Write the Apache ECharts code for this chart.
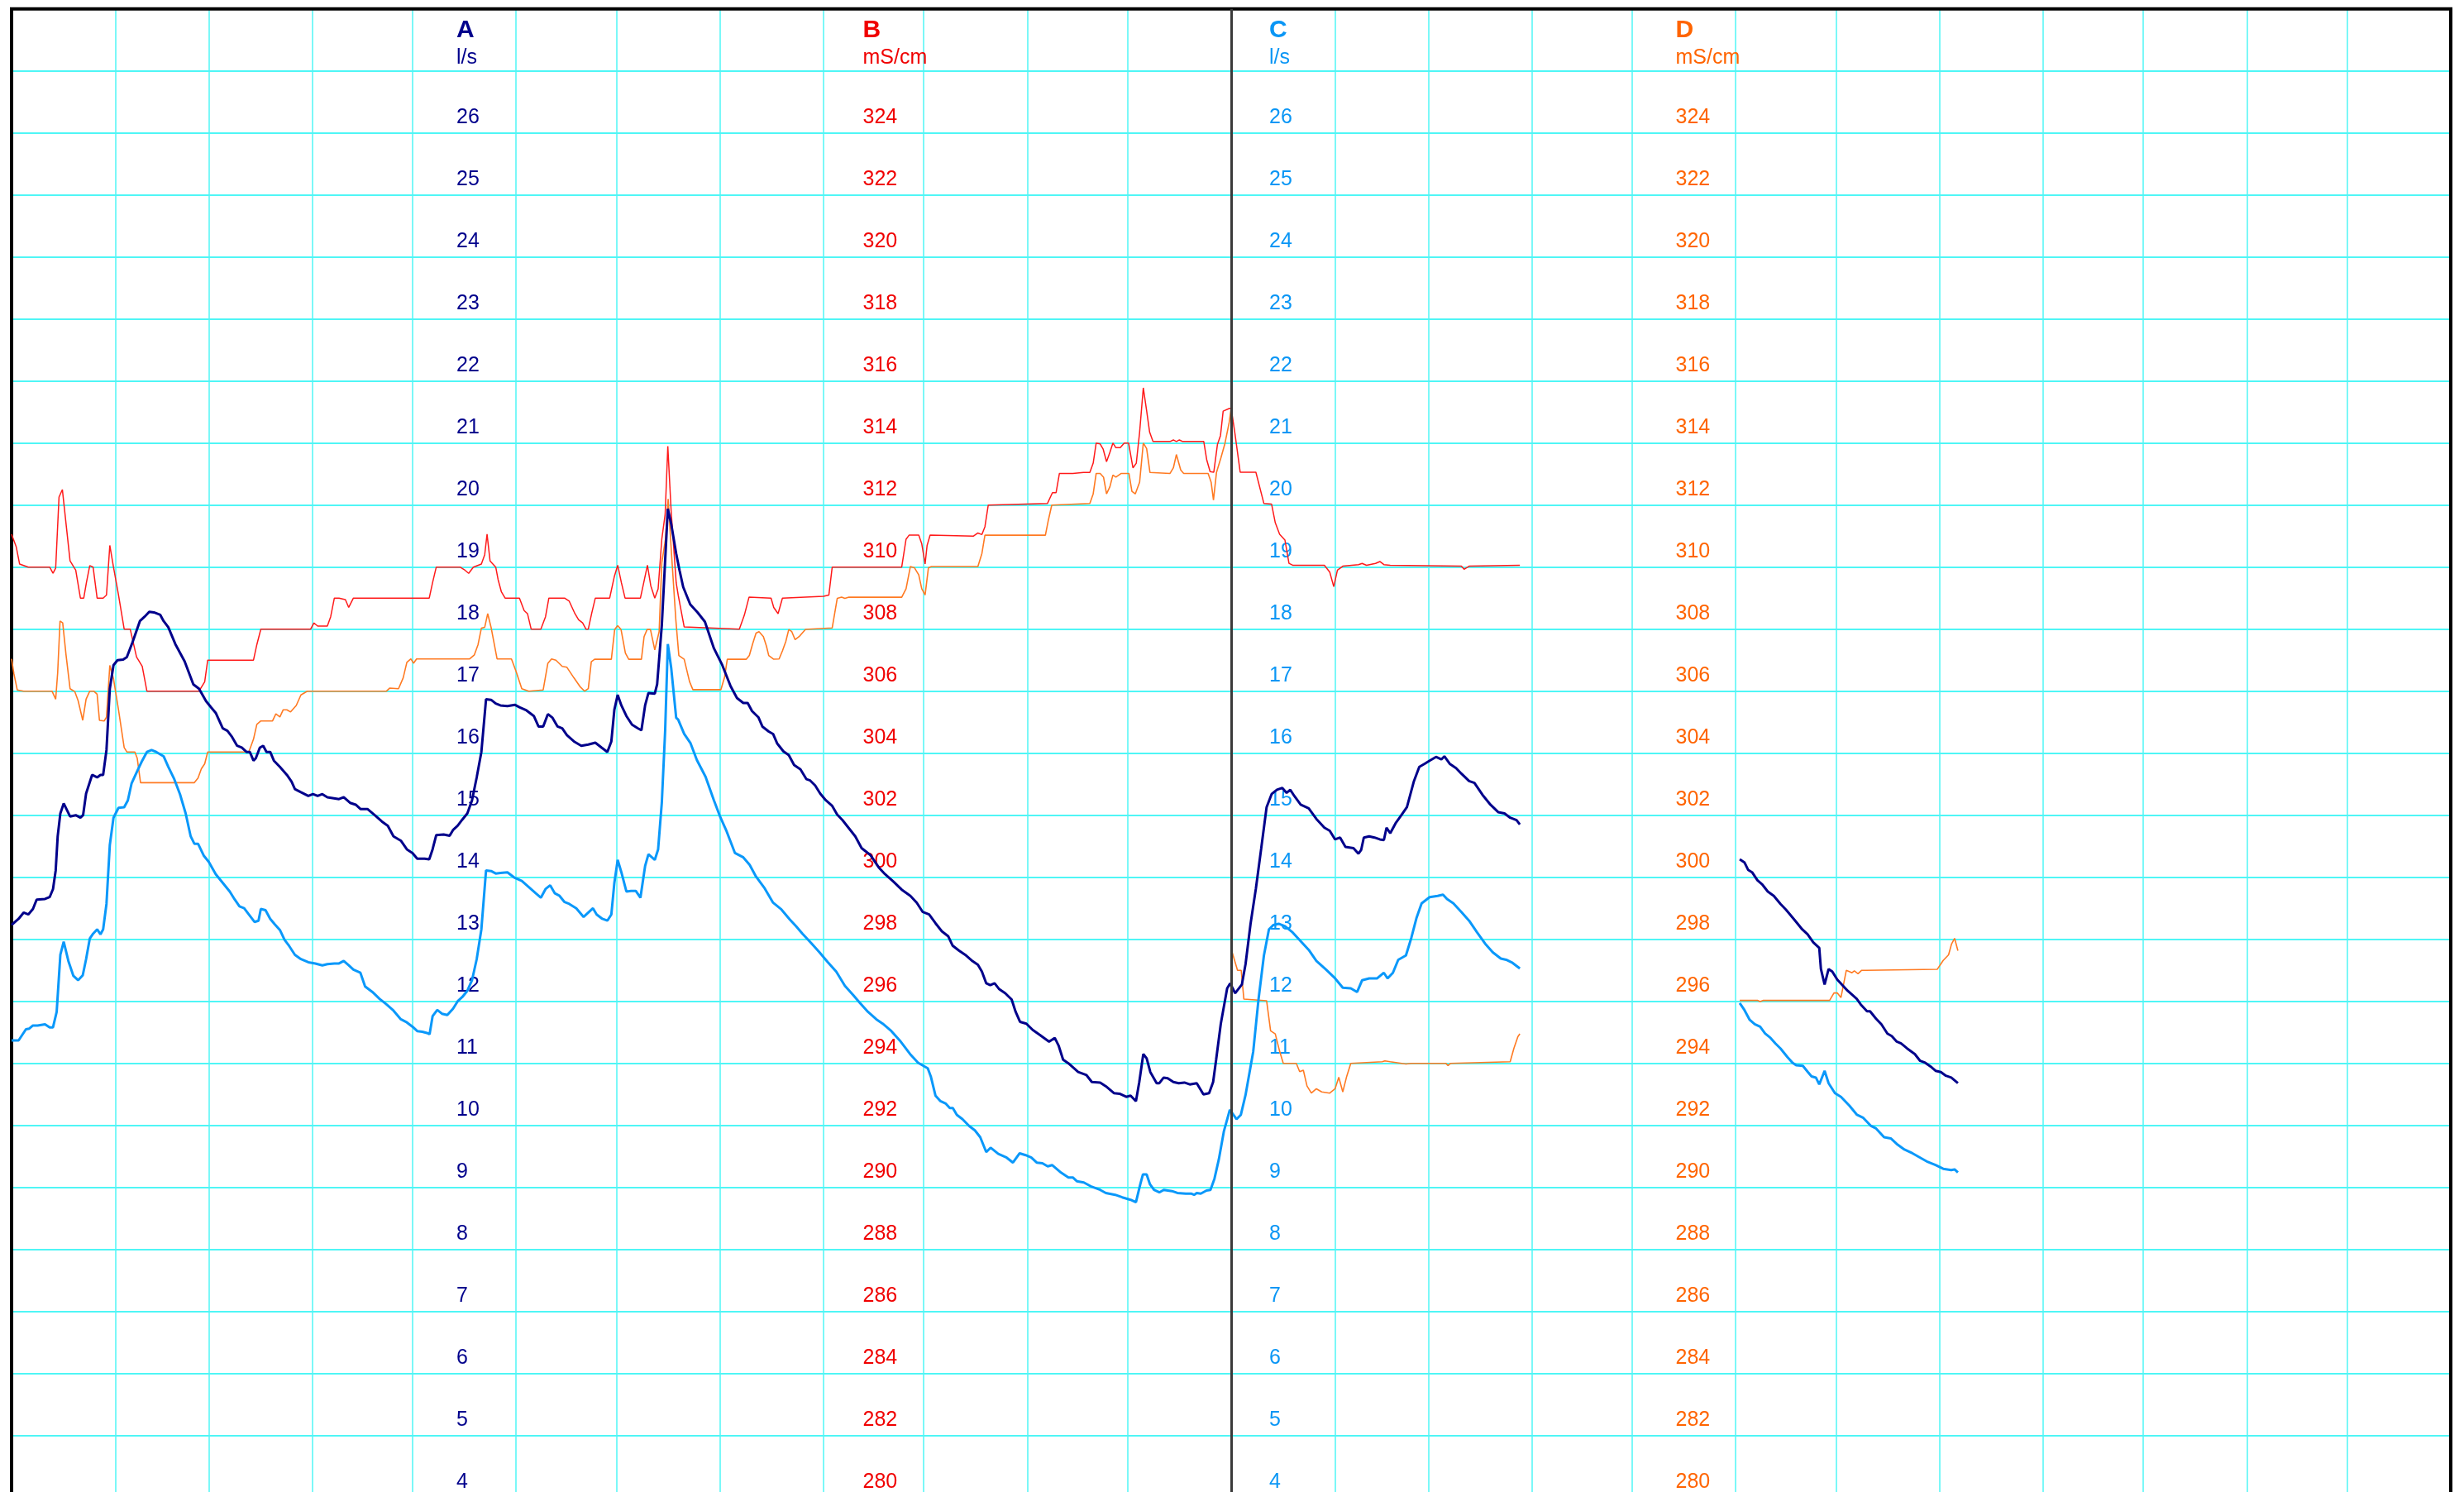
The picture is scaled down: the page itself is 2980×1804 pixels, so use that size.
<!DOCTYPE html>
<html><head><meta charset="utf-8">
<script src="https://cdn.jsdelivr.net/npm/echarts@6/dist/echarts.min.js"></script>
<style>html,body{margin:0;padding:0;background:#fff;overflow:hidden}#c{width:2980px;height:1804px}</style>
</head><body><div id="c"></div>
<script>
// x values are days counted from 1 Jan of the first year
const START_YEAR = 2021;
const SPAN_DAYS = 730;
const YEAR_BOUNDARY_DAY = 365;

const axisNames = ['A', 'B', 'C', 'D'];
const axisUnits = ['l/s', 'mS/cm', 'l/s', 'mS/cm'];
const flowScale = { min: 4, max: 28, interval: 1 };
const condScale = { min: 280, max: 328, interval: 2 };

const seriesA = [[0,13.23],[2.1,13.33],[3.6,13.43],[5,13.40],[6.4,13.49],[7.5,13.64],[10,13.65],[11.4,13.68],[12.4,13.81],[13.2,14.11],[13.8,14.66],[14.6,15.03],[15.6,15.19],[17.5,14.98],[19.2,15.0],[20.6,14.96],[21.4,15.0],[22.3,15.35],[24.1,15.65],[25.6,15.61],[26.6,15.65],[27.4,15.65],[28.4,16.05],[29.4,17.04],[30.5,17.42],[31.7,17.5],[33.4,17.51],[34.5,17.55],[36.2,17.79],[38.4,18.13],[39.8,18.2],[41.2,18.28],[42.6,18.27],[44.5,18.23],[45.5,18.13],[46.9,18.03],[49,17.76],[51.8,17.48],[54.4,17.11],[56.1,17.04],[58.2,16.84],[59.7,16.74],[61.1,16.65],[63.2,16.4],[64.6,16.36],[66,16.26],[67.5,16.12],[68.9,16.09],[70.3,16.02],[71.3,16.02],[72.4,15.88],[73.1,15.92],[74.3,16.09],[75.3,16.12],[76.3,16.02],[77.4,16.02],[78.5,15.88],[80.3,15.78],[82.4,15.65],[83.8,15.54],[84.8,15.42],[86.6,15.37],[88.8,15.31],[90.2,15.34],[91.6,15.31],[93,15.34],[94.5,15.29],[98,15.26],[99.4,15.29],[101.3,15.2],[103,15.17],[104.4,15.1],[106.5,15.1],[108.7,15.0],[110.8,14.9],[112.6,14.83],[114.3,14.66],[116.5,14.59],[118.3,14.45],[120,14.39],[121.4,14.3],[123.6,14.3],[125,14.29],[126,14.45],[127.1,14.68],[129.3,14.69],[131.1,14.67],[132.1,14.76],[133.5,14.83],[134.9,14.93],[136.4,15.03],[137.8,15.24],[139.2,15.61],[140.6,16.02],[142,16.87],[143.5,16.86],[144.9,16.8],[146.3,16.77],[148.4,16.76],[150.6,16.78],[152,16.74],[154.1,16.69],[156.3,16.6],[157.7,16.43],[159.1,16.43],[160.5,16.63],[161.9,16.57],[163.4,16.43],[164.8,16.4],[166.2,16.29],[168.3,16.19],[170.5,16.12],[172.6,16.14],[174.7,16.17],[176.6,16.09],[178.3,16.02],[179.5,16.19],[180.4,16.7],[181.4,16.94],[182.5,16.77],[184,16.6],[185.7,16.46],[187.5,16.4],[188.5,16.37],[189.6,16.77],[190.6,16.97],[192.5,16.96],[193.2,17.11],[194.6,18.06],[196.4,19.94],[197.4,19.7],[198.9,19.22],[199.9,18.95],[201,18.68],[203.1,18.4],[205.3,18.27],[207.5,18.12],[210.2,17.69],[212.7,17.42],[215.2,17.08],[217.1,16.89],[219,16.81],[220.3,16.81],[221.6,16.68],[223.5,16.58],[224.7,16.43],[226.6,16.35],[227.9,16.31],[229.1,16.16],[231,16.03],[232.6,15.97],[234.2,15.81],[236.1,15.74],[237.9,15.58],[239,15.56],[240.5,15.48],[242,15.35],[243.7,15.24],[245.6,15.15],[247.1,15.01],[248.7,14.92],[250.6,14.79],[252.5,14.66],[254.4,14.47],[257,14.36],[259.5,14.16],[261.4,14.05],[263.9,13.93],[266.4,13.8],[269,13.7],[270.9,13.59],[272.7,13.44],[274.6,13.4],[276.5,13.26],[278.4,13.13],[280.3,13.05],[281.6,12.9],[283.5,12.82],[285.4,12.75],[287.3,12.66],[289.2,12.59],[290.4,12.48],[291.7,12.29],[292.9,12.26],[294.2,12.29],[295.5,12.2],[297.4,12.13],[299.3,12.03],[300.5,11.83],[301.8,11.67],[303.7,11.64],[305.6,11.54],[307.7,11.46],[310.5,11.35],[312.2,11.41],[313.4,11.28],[314.7,11.06],[316.3,11.0],[319.2,10.86],[321.7,10.81],[323.3,10.7],[325.8,10.69],[327.5,10.63],[329.9,10.52],[331.6,10.51],[333.6,10.46],[334.9,10.48],[336.5,10.39],[337.5,10.7],[338.7,11.15],[339.7,11.08],[340.8,10.86],[342.7,10.68],[343.5,10.68],[344.8,10.77],[346,10.76],[347.7,10.7],[349.3,10.68],[351,10.69],[352.6,10.66],[354.7,10.68],[356.7,10.5],[358.4,10.52],[359.6,10.7],[360.5,11.06],[361.9,11.64],[363.8,12.21],[364.7,12.29],[366.2,12.13],[368.2,12.27],[369.3,12.6],[370.8,13.25],[372.4,13.82],[374,14.47],[375.6,15.13],[377.1,15.34],[378.7,15.41],[380.3,15.44],[381.6,15.36],[382.7,15.41],[383.9,15.31],[385.8,15.17],[388.2,15.11],[390.5,14.94],[392.9,14.8],[394.5,14.75],[396.1,14.61],[397.6,14.64],[399.2,14.49],[401.6,14.47],[403.1,14.38],[403.9,14.44],[404.7,14.64],[406.3,14.66],[407.9,14.64],[409.5,14.61],[410.7,14.6],[411.5,14.8],[412.6,14.71],[414.2,14.87],[415.8,14.99],[417.6,15.13],[419.7,15.55],[421.3,15.78],[422.9,15.83],[424.4,15.88],[426.3,15.94],[427.9,15.9],[428.8,15.95],[430.4,15.83],[432.3,15.76],[433.9,15.67],[436.2,15.55],[437.8,15.52],[440.2,15.33],[442.6,15.17],[444.9,15.05],[446.8,15.03],[448.5,14.96],[450.4,14.92],[451.4,14.85],[480,null],[517.2,14.29],[518.6,14.24],[519.7,14.12],[520.9,14.08],[522.5,13.95],[524,13.88],[525.6,13.77],[527.4,13.7],[529.4,13.57],[531,13.48],[532.1,13.41],[534.1,13.28],[535.9,13.16],[537.5,13.08],[539.2,12.95],[541,12.86],[541.5,12.52],[542.6,12.27],[543.8,12.52],[544.9,12.48],[546.4,12.35],[549.5,12.17],[552.2,12.04],[553.4,11.95],[555.3,11.84],[556.2,11.84],[558,11.72],[559.6,11.63],[561.4,11.48],[562.7,11.44],[564.2,11.35],[565.5,11.32],[567.3,11.24],[569.6,11.15],[571.2,11.04],[572.7,11.01],[574.3,10.95],[575.8,10.88],[577.4,10.86],[578.9,10.8],[580.5,10.77],[582.5,10.68]];

const seriesB = [[0,311.06],[1.4,310.65],[2.4,310.1],[5,310],[11.4,310],[12.4,309.8],[13.2,309.97],[14.2,312.26],[15.2,312.5],[16.3,311.4],[17.5,310.2],[19.2,309.9],[20.6,309],[21.6,309],[22.4,309.5],[23.4,310.05],[24.4,310],[25.6,309],[27.4,309],[28.4,309.1],[29.4,310.7],[30.5,310],[32,309.1],[33.7,308],[35.5,308],[37.4,307.1],[39.1,306.8],[40.5,306],[56.1,306],[57.8,306.3],[58.7,307],[72.4,307],[73.4,307.5],[74.6,308],[89.5,308],[90.5,308.2],[91.6,308.1],[94.5,308.1],[95.5,308.4],[96.6,309],[98,309],[99.9,308.95],[100.9,308.7],[102.3,309],[125,309],[126,309.5],[127.1,310],[134.2,310],[135.7,309.9],[136.8,309.8],[138.2,310],[140.6,310.1],[141.6,310.4],[142.3,311.06],[143.2,310.2],[144.9,310],[145.6,309.6],[146.6,309.2],[147.7,309],[152,309],[153.4,308.6],[154.4,308.5],[155.5,308],[158.4,308],[159.8,308.4],[160.8,309],[165.5,309],[166.9,308.9],[168.6,308.5],[169.7,308.3],[170.9,308.2],[171.9,308],[172.6,308],[173.6,308.5],[174.7,309],[179,309],[180.4,309.7],[181.4,310.06],[182.5,309.5],[183.6,309],[188.2,309],[189.2,309.5],[190.3,310.06],[191.3,309.4],[192.5,309],[193.5,309.3],[194.6,310.9],[195.6,311.7],[196.4,313.9],[197.4,311.8],[198.9,309.5],[199.5,309.1],[201.3,308.07],[217.8,308],[219.3,308.45],[220.7,309.03],[227.3,309],[228.1,308.7],[229.4,308.5],[230.7,309],[243,309.06],[244.6,309.1],[245.6,310],[266.4,310],[267.7,310.9],[268.6,311.03],[271.5,311.03],[272.4,310.75],[273.4,310.1],[274,310.7],[274.9,311.03],[287.9,311],[289.2,311.1],[290.4,311.05],[291.3,311.3],[292.3,312],[310,312.05],[311.5,312.4],[312.6,312.4],[313.6,313.02],[317.6,313.02],[320.8,313.05],[322.7,313.05],[323.7,313.35],[324.6,314],[325.8,313.97],[326.7,313.8],[327.7,313.4],[328.7,313.7],[329.6,314],[330.5,313.85],[331.8,313.85],[333,314],[334.3,314],[335.6,313.2],[336.6,313.35],[337.6,314.35],[338.7,315.78],[339.7,315.04],[340.6,314.35],[341.6,314.05],[346.7,314.05],[347.7,314.1],[348.6,314.05],[349.5,314.1],[350.5,314.05],[356.8,314.05],[357.7,313.45],[358.7,313.08],[359.8,313.06],[360.9,313.96],[361.8,314.24],[362.6,315.03],[364.5,315.12],[365,315.12],[366.1,314.33],[367.7,313.06],[372.4,313.06],[374.8,312.05],[377.1,312.03],[378.2,311.43],[379.5,311.06],[381.1,310.87],[382.3,310.12],[383.4,310.06],[392.9,310.06],[394.5,309.84],[395.7,309.37],[396.8,309.9],[398.4,310.03],[403.1,310.08],[404.2,310.12],[405.5,310.06],[408.2,310.12],[409.5,310.18],[410.7,310.08],[412.6,310.06],[433.9,310.03],[434.7,309.93],[436.2,310.03],[451.4,310.06]];

const seriesC = [[0,11.37],[2.1,11.37],[4.3,11.55],[5.3,11.56],[6.4,11.61],[7.8,11.61],[10,11.63],[11.4,11.58],[12.4,11.58],[13.5,11.83],[14.6,12.75],[15.6,12.96],[17,12.65],[18.5,12.41],[19.9,12.34],[21.3,12.42],[22.3,12.68],[23.4,13.01],[24.4,13.09],[25.6,13.16],[26.6,13.08],[27.4,13.16],[28.4,13.57],[29.4,14.52],[30.5,14.96],[32,15.12],[33.7,15.13],[34.8,15.24],[35.9,15.51],[37.6,15.71],[39.1,15.88],[40.5,16.02],[41.9,16.05],[43.3,16.02],[45.5,15.95],[46.9,15.78],[48.7,15.58],[50.4,15.34],[52.1,15.03],[53.6,14.66],[54.7,14.54],[55.8,14.54],[57.5,14.35],[59,14.25],[61.1,14.05],[63.2,13.91],[65.3,13.77],[66.8,13.64],[68.2,13.53],[69.6,13.5],[71,13.4],[72.7,13.28],[73.9,13.3],[74.6,13.49],[76,13.47],[77.4,13.33],[78.8,13.24],[80.3,13.15],[81.7,12.99],[83.1,12.89],[84.8,12.75],[86.6,12.68],[88.8,12.63],[90.9,12.61],[93,12.58],[94.5,12.6],[96.6,12.61],[98,12.61],[99.4,12.65],[100.9,12.58],[102.3,12.51],[104.4,12.46],[105.8,12.24],[108,12.15],[110.1,12.04],[112.2,11.95],[114.3,11.85],[116.5,11.71],[118.3,11.66],[120,11.59],[121.4,11.52],[122.9,11.51],[124.3,11.49],[125.1,11.47],[126,11.76],[127.4,11.86],[128.8,11.8],[130.4,11.78],[132.1,11.88],[133.5,12.0],[134.9,12.07],[136.4,12.17],[137.8,12.34],[139.2,12.68],[140.6,13.16],[142,14.11],[143.5,14.1],[144.9,14.06],[146.3,14.07],[148.4,14.08],[150.6,13.99],[152.7,13.94],[154.8,13.84],[156.9,13.74],[158.4,13.67],[159.8,13.81],[161.2,13.87],[162.6,13.74],[164,13.7],[165.5,13.6],[166.9,13.57],[169,13.5],[171.2,13.36],[172.6,13.43],[174,13.5],[175.1,13.4],[176.8,13.33],[178.3,13.3],[179.5,13.4],[180.4,13.91],[181.4,14.28],[182.5,14.08],[184,13.77],[185.4,13.78],[186.8,13.78],[188.2,13.67],[189.6,14.18],[190.6,14.37],[192.5,14.28],[193.5,14.45],[194.6,15.2],[195.6,16.36],[196.4,17.76],[197.4,17.38],[198.9,16.57],[199.5,16.54],[201.3,16.31],[203.2,16.16],[205.1,15.89],[207.7,15.62],[210.2,15.24],[212.1,14.97],[214,14.74],[216.5,14.39],[219,14.32],[220.9,14.2],[222.8,14.01],[225.4,13.82],[227.9,13.59],[230.4,13.48],[232.9,13.32],[234.8,13.21],[236.7,13.09],[239.3,12.94],[241.8,12.79],[244.3,12.63],[246.8,12.48],[249.4,12.25],[251.9,12.1],[253.8,11.98],[256.3,11.83],[258.8,11.71],[260.7,11.64],[263.3,11.52],[265.8,11.37],[268.9,11.15],[271.3,11.01],[274.2,10.92],[275.1,10.79],[276.5,10.48],[278,10.39],[279.6,10.35],[280.8,10.28],[281.7,10.28],[282.9,10.17],[284.6,10.1],[286.6,9.99],[288.3,9.92],[289.9,9.81],[291.7,9.57],[293,9.64],[295.3,9.54],[297.8,9.48],[299.7,9.4],[301.7,9.55],[303.5,9.52],[305.2,9.48],[306.8,9.4],[308.5,9.39],[310.1,9.34],[311.4,9.36],[313.8,9.25],[316.3,9.16],[317.6,9.16],[318.8,9.1],[320.9,9.08],[323.3,9.01],[325.8,8.96],[327.5,8.91],[330.3,8.88],[332.4,8.84],[334.9,8.8],[336.5,8.76],[337.8,9.05],[338.6,9.21],[339.7,9.21],[340.7,9.05],[341.9,8.96],[343.5,8.92],[344.8,8.96],[347.3,8.94],[348.9,8.91],[351.4,8.9],[353,8.9],[353.9,8.88],[354.7,8.91],[355.9,8.9],[357.6,8.95],[358.8,8.96],[360,9.14],[361.3,9.45],[362.8,9.9],[364.6,10.25],[366.6,10.1],[367.9,10.17],[369.3,10.49],[371.6,11.19],[373.2,12.04],[374.8,12.74],[376.3,13.16],[377.6,13.23],[379.2,13.25],[381.1,13.21],[383.4,13.11],[385.8,12.97],[388.2,12.83],[390.5,12.65],[393.4,12.51],[396.1,12.37],[398.4,12.22],[400.8,12.21],[402.7,12.15],[404.2,12.34],[406.3,12.37],[408.7,12.37],[410.7,12.46],[411.8,12.37],[413.4,12.46],[415,12.67],[417.3,12.74],[418.9,13.02],[420.5,13.35],[422,13.58],[424.4,13.68],[426.8,13.7],[428.4,13.72],[429.6,13.65],[431.5,13.58],[433.9,13.44],[436.2,13.3],[438.6,13.11],[441,12.93],[443.3,12.79],[445.7,12.69],[447.3,12.67],[449.2,12.62],[451.4,12.53],[480,null],[517.2,11.97],[518.6,11.86],[520.2,11.7],[521.7,11.63],[523.3,11.59],[524.8,11.48],[526.4,11.41],[527.9,11.32],[529.4,11.24],[531.5,11.1],[533,11.01],[534.1,10.97],[536.1,10.96],[537.6,10.86],[538.7,10.79],[540,10.77],[541,10.66],[542.6,10.88],[543.8,10.68],[545.7,10.52],[547.5,10.46],[550,10.32],[552.3,10.17],[554.2,10.12],[556.5,9.99],[558,9.95],[560.4,9.81],[562.4,9.79],[564.2,9.7],[566.5,9.61],[568.9,9.55],[571.2,9.48],[573.5,9.41],[575.8,9.36],[578.1,9.3],[580.5,9.28],[581.5,9.29],[582.5,9.24]];

const seriesD = [[0,307.04],[0.7,306.56],[1.7,306.04],[3.6,306],[12.1,306],[13.2,305.74],[13.8,306.6],[14.5,308.26],[15.3,308.2],[16.3,307.17],[17.5,306.08],[18.9,305.99],[19.9,305.7],[21.3,305.06],[22.3,305.74],[23.4,306],[24.6,306],[25.6,305.9],[26.3,305.06],[27.7,305.04],[28.4,305.16],[29.4,306.83],[30.5,306.4],[32,305.4],[33.7,304.18],[34.5,304.04],[36.9,304.04],[37.6,303.84],[38.6,303.05],[54.7,303.05],[55.8,303.2],[56.8,303.5],[57.8,303.66],[58.7,304.04],[71,304.04],[72.4,304.45],[73.4,304.93],[74.6,305.04],[78.1,305.04],[79.1,305.27],[80.3,305.17],[81.3,305.4],[82.4,305.4],[83.5,305.33],[85.2,305.54],[86.6,305.88],[88.5,306],[112.2,306],[113.2,306.1],[115.8,306.08],[117.2,306.43],[118.3,306.93],[119.5,307.04],[120.3,306.9],[121.2,307.04],[137.1,307.04],[138.5,307.17],[139.6,307.5],[140.6,308.03],[141.6,308.06],[142.5,308.5],[143.5,308.06],[145.3,307.04],[149.6,307.04],[151,306.63],[152.7,306.08],[154.8,306],[159.1,306.04],[160.5,306.9],[161.6,307.04],[162.9,307],[164.8,306.8],[166.2,306.77],[168.3,306.43],[170.1,306.15],[171.5,306],[172.6,306.08],[173.5,306.95],[174.5,307.03],[179.5,307.03],[180.5,307.99],[181.4,308.11],[182.4,307.99],[183.7,307.23],[184.7,307.03],[188.5,307.03],[189.3,307.76],[190.2,307.99],[191.2,307.99],[192.5,307.33],[193.8,307.92],[194.6,310.14],[195.7,310.9],[196.5,312.2],[197.5,310.44],[198.8,308.3],[199.7,307.15],[201.3,307.03],[202.9,306.31],[203.9,306.05],[212.3,306.05],[213.4,306.46],[214.2,307.03],[219.9,307.03],[220.8,307.15],[221.8,307.53],[222.8,307.87],[223.7,307.92],[225,307.76],[225.9,307.46],[226.6,307.15],[228.1,307.03],[229.7,307.04],[230.7,307.3],[231.7,307.6],[232.6,307.99],[233.5,307.92],[234.5,307.66],[235.7,307.76],[237.6,307.99],[245.6,308.04],[247.1,308.99],[248.4,309.03],[249.4,308.99],[250.6,309.03],[266.4,309.03],[267.7,309.3],[269,310.02],[270.2,309.98],[271.5,309.75],[272.4,309.3],[273.4,309.1],[274.4,309.98],[275.3,310.02],[289.2,310.02],[290.4,310.44],[291.3,311.03],[309.4,311.03],[310.3,311.52],[311.3,312],[322.7,312.05],[323.7,312.36],[324.6,313.02],[325.8,313.02],[326.8,312.9],[327.7,312.36],[328.7,312.59],[329.6,312.97],[330.5,312.9],[332.1,313.02],[334.4,313.02],[335.3,312.44],[336.3,312.36],[337.6,312.74],[338.7,314],[339.7,313.82],[340.7,313.05],[346.7,313.02],[347.7,313.2],[348.6,313.63],[349.9,313.13],[350.8,313.02],[358.1,313.02],[359,312.74],[359.7,312.16],[360.6,313.05],[361.9,313.51],[363.1,313.97],[364.4,314.66],[365,315.12],[365.05,297.67],[366.9,297.0],[368,297.0],[368.8,296.07],[375.6,296.02],[376.8,295.05],[378.2,294.95],[379.5,294.39],[380.6,294.0],[384.5,294],[385.5,293.73],[386.6,293.78],[387.7,293.27],[389,293.04],[390.5,293.18],[392.1,293.08],[394.5,293.04],[396.1,293.18],[397.2,293.55],[398.4,293.08],[399.5,293.55],[400.8,294.0],[410.2,294.05],[411,294.08],[412.6,294.05],[417.3,293.98],[418.9,294],[429.2,294],[429.9,293.93],[430.7,294],[448.5,294.05],[449.6,294.48],[450.8,294.86],[451.4,294.95],[480,null],[517.2,296.03],[522.5,296.03],[523.3,295.99],[524.3,296.03],[544.1,296.03],[545.4,296.27],[546.4,296.27],[547.5,296.12],[549.1,297.0],[550,296.96],[550.8,296.92],[551.5,296.98],[552.6,296.89],[553.7,297.0],[555,297.0],[576.3,297.03],[578.1,297.32],[579.7,297.5],[580.6,297.85],[581.5,298.03],[582.5,297.63]];

const DAY_MS = 86400000;
const BASE = Date.UTC(START_YEAR, 0, 1);
const toTime = d => BASE + d * DAY_MS;
const toSeries = arr => arr.map(p => [toTime(p[0]), p[1]]);

const FONT = '"Liberation Sans", Arial, Helvetica, sans-serif';
const GRID_COLOR = '#4ff6f6';
const labelColors = ['#00008c', '#f00000', '#0a96f5', '#ff6400'];
const lineColors  = ['#00008b', '#ff1a1a', '#0a98fa', '#ff7a22'];
const labelOffsets = [-538, -1029.5, -1521, -2012.5];

function makeYAxis(i) {
  const sc = (i % 2 === 0) ? flowScale : condScale;
  return {
    type: 'value', gridIndex: 0, position: 'left', offset: labelOffsets[i],
    min: sc.min, max: sc.max, interval: sc.interval,
    axisLine: { show: false }, axisTick: { show: false },
    splitLine: { show: i === 0, lineStyle: { color: GRID_COLOR, width: 2 } },
    axisLabel: {
      inside: true, margin: 0, align: 'left', verticalAlign: 'bottom',
      lineHeight: 25, padding: [0, 0, 6, 0],
      color: labelColors[i], fontSize: 25, fontFamily: FONT,
      showMinLabel: true, showMaxLabel: true,
      rich: { u: { color: labelColors[i], fontSize: 25, fontFamily: FONT, lineHeight: 20 } },
      formatter: v => v >= sc.max ? '' : (v === sc.max - sc.interval ? '{u|' + axisUnits[i] + '}' : String(v))
    },
    name: axisNames[i], nameLocation: 'end', nameGap: -26, nameMoveOverlap: false,
    nameTextStyle: { color: labelColors[i], fontSize: 30, fontWeight: 'bold', fontFamily: FONT, align: 'left', verticalAlign: 'middle' }
  };
}

function makeLine(name, data, yIdx, width, extra) {
  return Object.assign({
    name, type: 'line', xAxisIndex: 0, yAxisIndex: yIdx, data: toSeries(data),
    showSymbol: false, symbol: 'none', connectNulls: false, silent: true,
    animation: false, emphasis: { disabled: true },
    lineStyle: { color: lineColors[yIdx], width }
  }, extra || {});
}

const chart = echarts.init(document.getElementById('c'), null, { renderer: 'canvas' });
chart.setOption({
  useUTC: true,
  animation: false,
  backgroundColor: '#ffffff',
  grid: { left: 14, right: 16, top: 10.7, bottom: -6.7, show: true, borderColor: '#000', borderWidth: 4,
          backgroundColor: 'transparent', z: 1, containLabel: false, outerBoundsMode: 'none' },
  xAxis: {
    type: 'time', min: toTime(0), max: toTime(SPAN_DAYS), splitNumber: 24,
    minInterval: 28 * DAY_MS, maxInterval: 31 * DAY_MS,
    axisLine: { show: false }, axisTick: { show: false }, axisLabel: { show: false },
    splitLine: { show: true, lineStyle: { color: GRID_COLOR, width: 1.5 } }
  },
  yAxis: [0, 1, 2, 3].map(makeYAxis),
  series: [
    makeLine('D', seriesD, 3, 1.6),
    makeLine('B', seriesB, 1, 1.5),
    makeLine('C', seriesC, 2, 3),
    makeLine('A', seriesA, 0, 3, {
      markLine: {
        silent: true, symbol: ['none', 'none'], label: { show: false }, animation: false,
        lineStyle: { color: '#3a3a3a', width: 3, type: 'solid' },
        emphasis: { disabled: true },
        data: [{ xAxis: toTime(YEAR_BOUNDARY_DAY) }]
      }
    })
  ]
});
</script></body></html>
